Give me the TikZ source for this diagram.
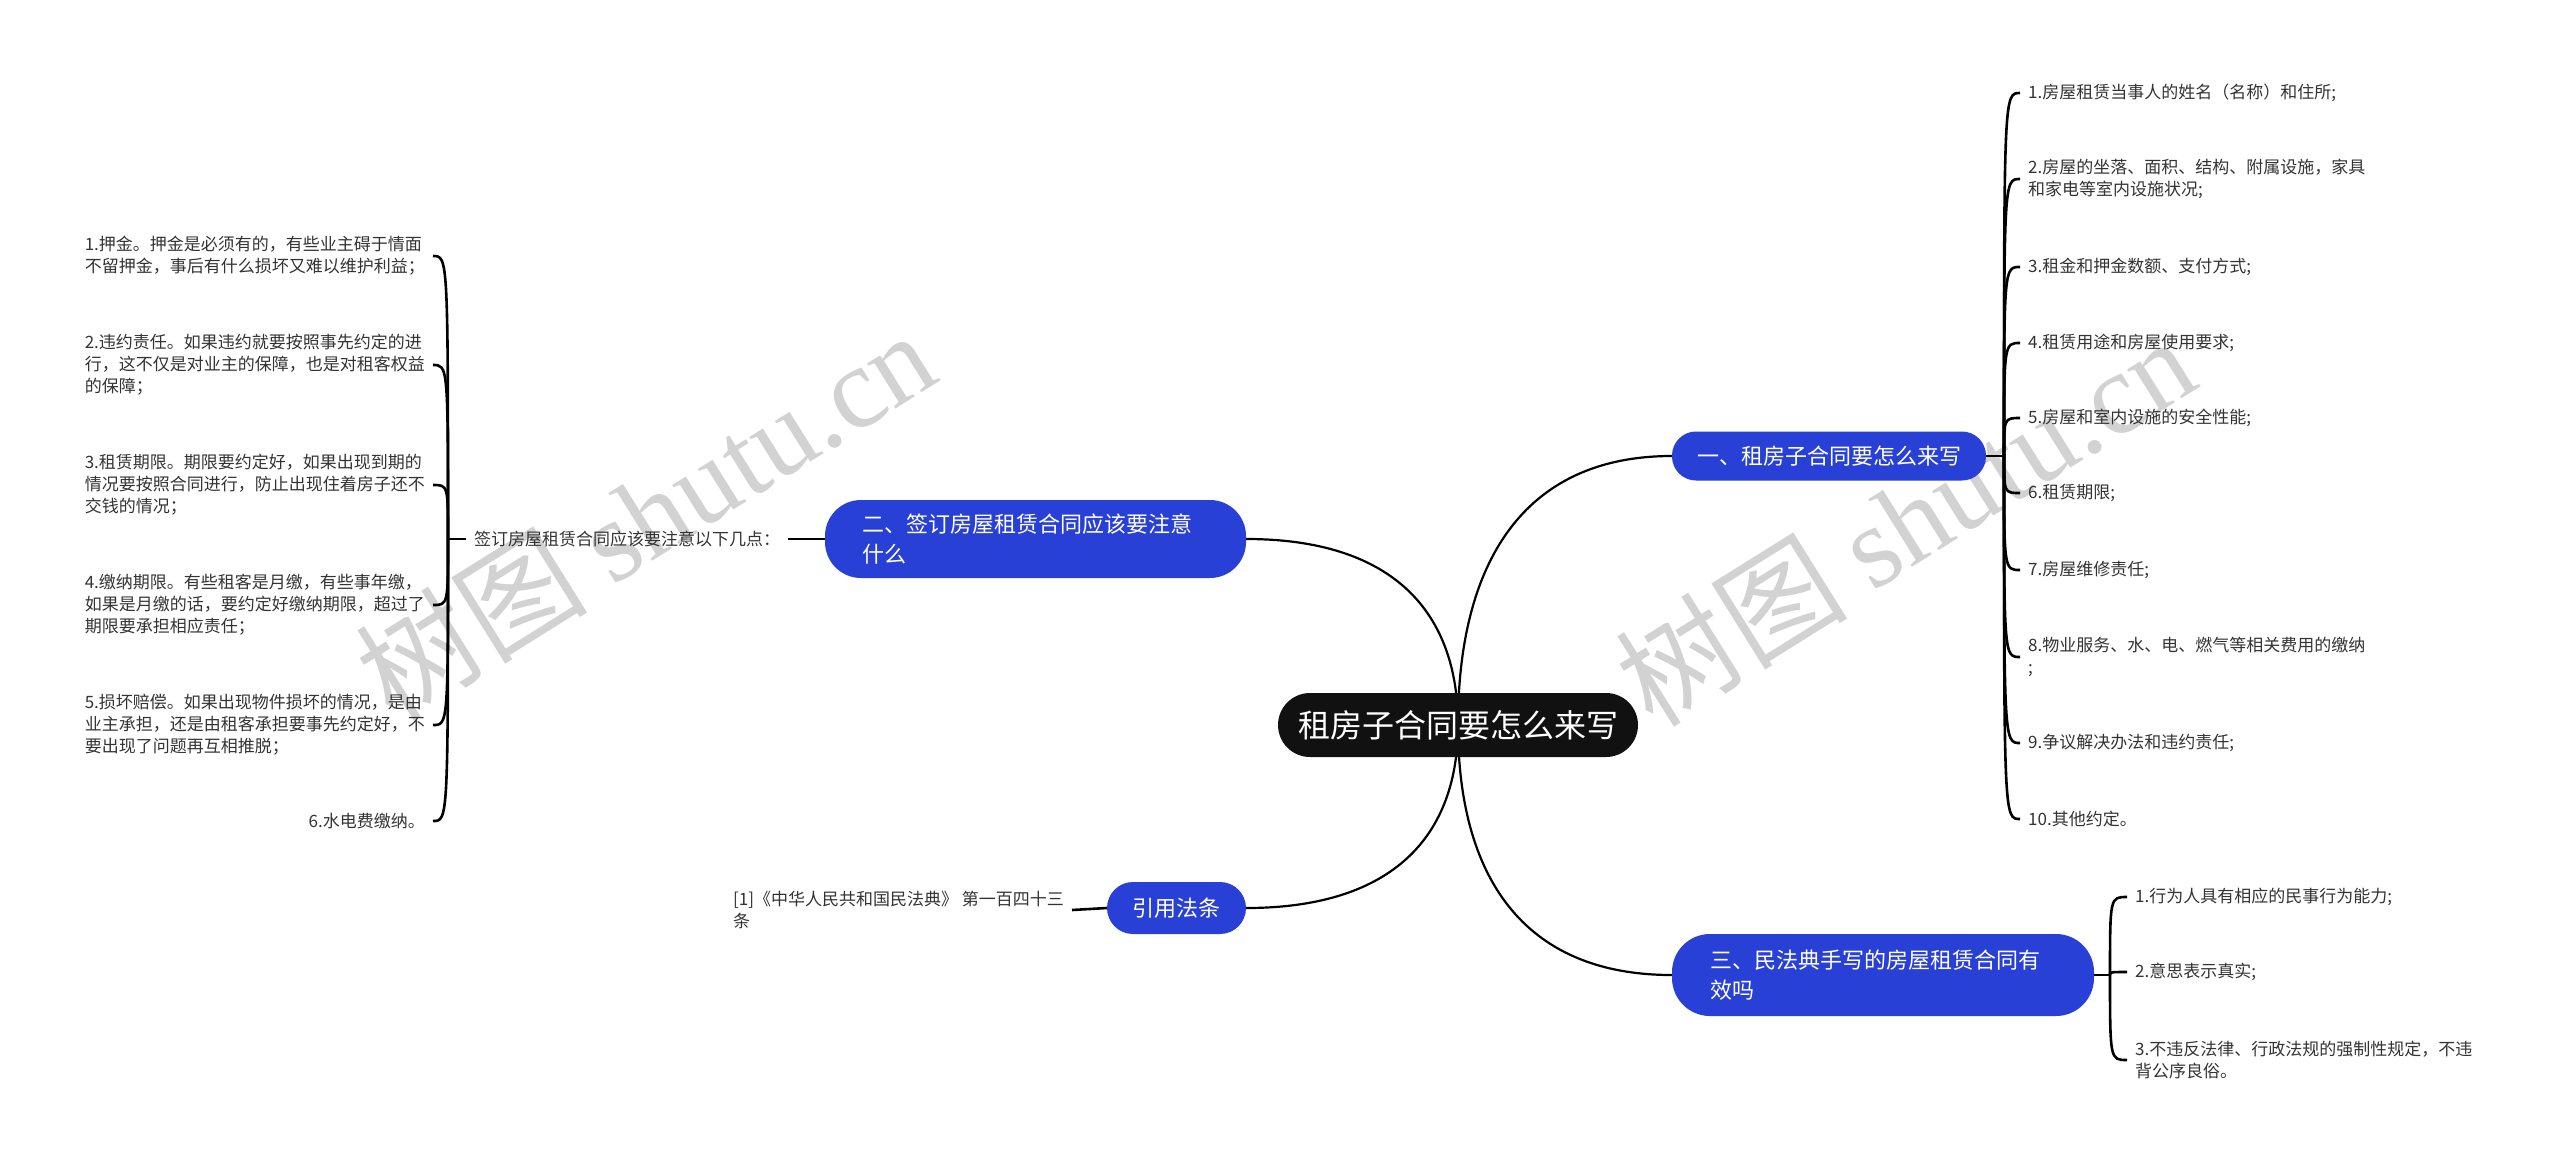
\documentclass[tikz,border=0pt]{standalone}
\usepackage{fontspec}
\setmainfont{Noto Sans CJK SC}
\newfontfamily\wmserif{Liberation Serif}
\usepackage{xcolor}
\usepackage{tikz}
\usetikzlibrary{backgrounds}
\definecolor{topicblue}{RGB}{40,64,214}
\definecolor{rootblack}{RGB}{17,17,17}
\definecolor{leafgray}{RGB}{51,51,51}
\definecolor{wmgray}{RGB}{210,210,210}
\tikzset{
root/.style={fill=rootblack,text=white,rounded corners=32pt,minimum width=360pt,minimum height=64pt,font=\fontsize{32}{38}\selectfont},
topic/.style={fill=topicblue,text=white,align=left,font=\fontsize{22}{30}\selectfont},
leaf/.style={text=leafgray,align=left,inner xsep=8pt,inner ysep=0pt,font=\fontsize{17}{22}\selectfont},
link/.style={line width=2.2pt},
brace/.style={line width=2.6pt},
wmark/.style={text=wmgray,rotate=32,font=\fontsize{116}{120}\selectfont}
}
\begin{document}
\begin{tikzpicture}[x=1pt,y=-1pt]
\useasboundingbox(0,0)rectangle(2560,1163);
%centre and topics
\node[root](root)at(1458,725){租房子合同要怎么来写};
\node[topic,minimum width=314pt,minimum height=49pt,rounded corners=24pt](t1)at(1829,456){一、租房子合同要怎么来写};
\node[topic,text width=347pt,inner xsep=37pt,minimum height=78pt,rounded corners=36pt](t2)at(1035.5,539){二、签订房屋租赁合同应该要注意\\什么};
\node[topic,text width=346pt,inner xsep=38pt,minimum height=82pt,rounded corners=38pt](t3)at(1883,975){三、民法典手写的房屋租赁合同有\\效吗};
\node[topic,minimum width=139pt,minimum height=52pt,rounded corners=26pt](ref)at(1176.5,908){引用法条};
\coordinate(j1)at(2004,456);
\coordinate(j2)at(448,539);
\coordinate(j3)at(2110,975);
%right leaves
\node[leaf,anchor=west](a1)at(2020,93){1.房屋租赁当事人的姓名（名称）和住所;};
\node[leaf,anchor=west](a2)at(2020,179){2.房屋的坐落、面积、结构、附属设施，家具\\和家电等室内设施状况;};
\node[leaf,anchor=west](a3)at(2020,267){3.租金和押金数额、支付方式;};
\node[leaf,anchor=west](a4)at(2020,343){4.租赁用途和房屋使用要求;};
\node[leaf,anchor=west](a5)at(2020,418){5.房屋和室内设施的安全性能;};
\node[leaf,anchor=west](a6)at(2020,493){6.租赁期限;};
\node[leaf,anchor=west](a7)at(2020,570){7.房屋维修责任;};
\node[leaf,anchor=west](a8)at(2020,657){8.物业服务、水、电、燃气等相关费用的缴纳\\;};
\node[leaf,anchor=west](a9)at(2020,743){9.争议解决办法和违约责任;};
\node[leaf,anchor=west](a10)at(2020,819){10.其他约定。};
\node[leaf,anchor=west](b1)at(2127,897){1.行为人具有相应的民事行为能力;};
\node[leaf,anchor=west](b2)at(2127,972){2.意思表示真实;};
\node[leaf,anchor=west](b3)at(2127,1060){3.不违反法律、行政法规的强制性规定，不违\\背公序良俗。};
%left leaves
\node[leaf,anchor=west](lab)at(466,539){签订房屋租赁合同应该要注意以下几点：};
\node[leaf,anchor=east](c1)at(433,256){1.押金。押金是必须有的，有些业主碍于情面\\不留押金，事后有什么损坏又难以维护利益；};
\node[leaf,anchor=east](c2)at(433,365){2.违约责任。如果违约就要按照事先约定的进\\行，这不仅是对业主的保障，也是对租客权益\\的保障；};
\node[leaf,anchor=east](c3)at(433,485){3.租赁期限。期限要约定好，如果出现到期的\\情况要按照合同进行，防止出现住着房子还不\\交钱的情况；};
\node[leaf,anchor=east](c4)at(433,605){4.缴纳期限。有些租客是月缴，有些事年缴，\\如果是月缴的话，要约定好缴纳期限，超过了\\期限要承担相应责任；};
\node[leaf,anchor=east](c5)at(433,725){5.损坏赔偿。如果出现物件损坏的情况，是由\\业主承担，还是由租客承担要事先约定好，不\\要出现了问题再互相推脱；};
\node[leaf,anchor=east](c6)at(433,821){6.水电费缴纳。};
\node[leaf,anchor=east](r1)at(1072,910){[1]《中华人民共和国民法典》 第一百四十三\\条};
\begin{scope}[on background layer]
\node[wmark]at(645,514){树图 {\wmserif shutu.cn}};
\node[wmark]at(1905,520){树图 {\wmserif shutu.cn}};
\draw[link](root.center)..controls+(0,-160)and+(-150,0)..(t1.west);
\draw[link](root.center)..controls+(0,-112)and+(148,0)..(t2.east);
\draw[link](root.center)..controls+(0,110)and+(148,0)..(ref.east);
\draw[link](root.center)..controls+(0,150)and+(-150,0)..(t3.west);
\end{scope}
\draw[brace](t1.east)--(j1);
\foreach \i in {1,...,10}
\draw[brace](j1)..controls(j1|-a\i.west)..(a\i.west);
\draw[brace](t3.east)--(j3);
\foreach \i in {1,2,3}
\draw[brace](j3)..controls(j3|-b\i.west)..(b\i.west);
\draw[brace](t2.west)--(lab.east)(lab.west)--(j2);
\foreach \i in {1,...,6}
\draw[brace](j2)..controls(j2|-c\i.east)..(c\i.east);
\draw[brace](ref.west)--(r1.east);
\end{tikzpicture}
\end{document}
